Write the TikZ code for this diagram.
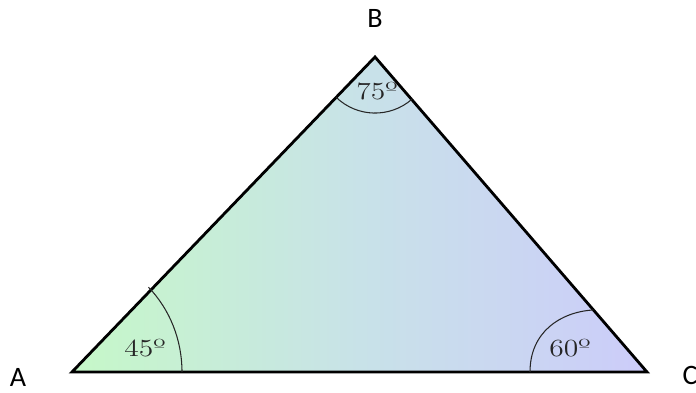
\documentclass[tikz,border=0pt]{standalone}
\usepackage{fontspec}
\usepackage{xcolor}
\usetikzlibrary{calc, positioning}
\newfontfamily\vertexfont{Carlito}
\definecolor{leftgreen}{RGB}{198,248,200}
\definecolor{midteal}{RGB}{200,226,232}
\definecolor{rightblue}{RGB}{204,204,250}
\tikzstyle{triside} = [line width=1.6pt, draw=black, line join=miter]
\tikzstyle{anglearc} = [line width=0.6pt, black!85]
\tikzstyle{vertexlabel} = [inner sep=0pt, anchor=base, font=\vertexfont\fontsize{16}{19}\selectfont]
\tikzstyle{anglelabel} = [inner sep=0pt, anchor=base, text=black!85, font=\fontsize{14}{16}\selectfont]
\newcommand{\anglab}[1]{\scalebox{1.2}[1]{#1º}}

\begin{document}
\begin{tikzpicture}[x=0.02cm, y=0.02cm]
    \useasboundingbox (0,0) rectangle (696,392);
    % Vertices
    \coordinate (A) at (72,20);
    \coordinate (B) at (375,335);
    \coordinate (C) at (647,20);

    % Triangle
    \draw[triside, left color=leftgreen, right color=rightblue, middle color=midteal] (A) -- (B) -- (C) -- cycle;

    % Angle arcs
    \draw[anglearc] ($(A)+(110,0)$) arc[start angle=0, end angle=46, x radius=2.2cm, y radius=2.36cm];
    \draw[anglearc] ($(B)!1.12cm!(A)$) arc[start angle=226, end angle=311, radius=1.12cm];
    \draw[anglearc] ($(C)+(-117,0)$) .. controls +(0,40) and +(-33,-2) .. ($(C)!0.197!(B)$);

    % Etiquetas
    \node (labA) [vertexlabel] at (18,6) {A};
    \node (labB) [vertexlabel] at (375,364) {B};
    \node (labC) [vertexlabel] at (690,8) {C};
    \node (ang45) [anglelabel] at (145,35) {\anglab{45}};
    \node (ang75) [anglelabel] at (377,292) {\anglab{75}};
    \node (ang60) [anglelabel] at (570,35) {\anglab{60}};
\end{tikzpicture}
\end{document}
